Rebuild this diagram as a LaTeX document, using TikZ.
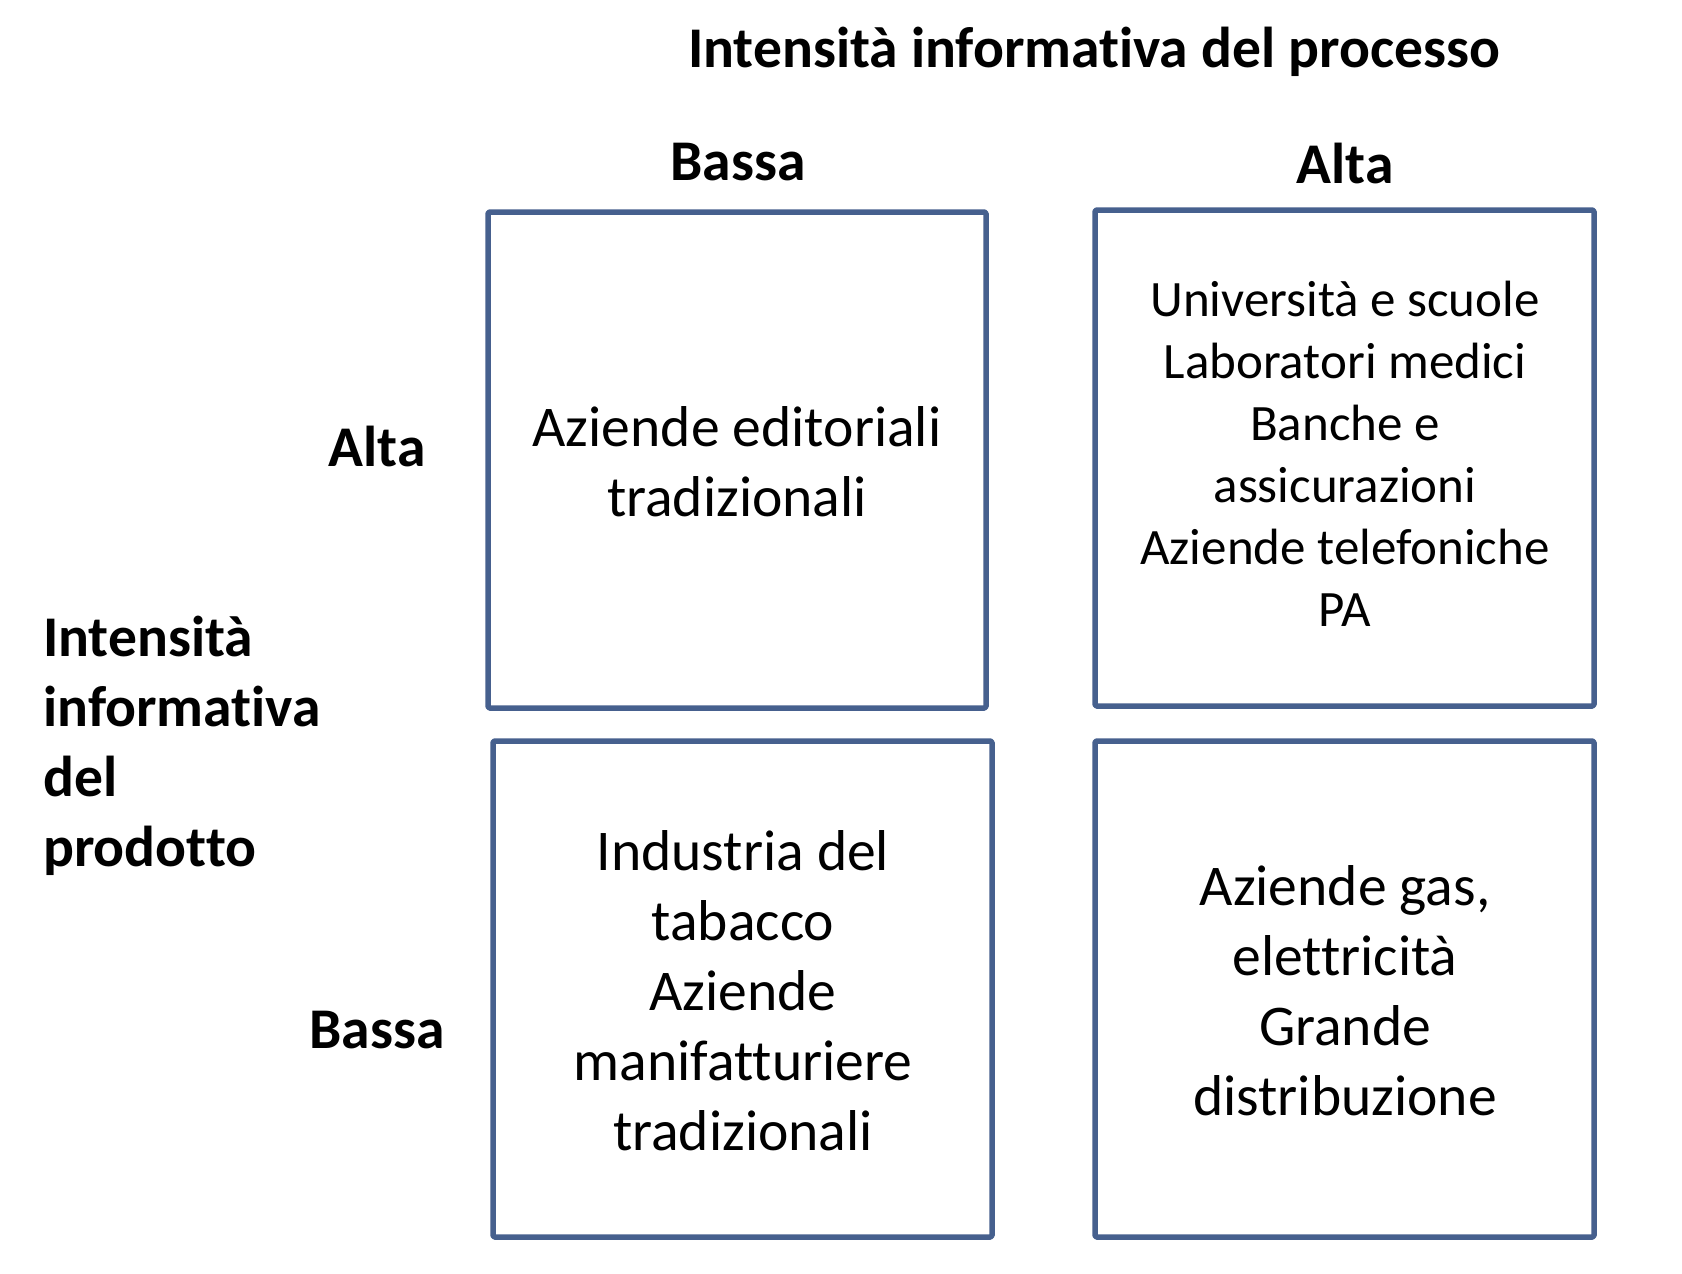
\documentclass[tikz,border=0pt]{standalone}
\usepackage{fontspec}
\setmainfont[Ligatures=NoCommon]{Carlito}
\definecolor{boxblue}{HTML}{46608E}
\begin{document}
\begin{tikzpicture}[x=1pt,y=-1pt,
  cell/.style={draw=boxblue,line width=5.5pt,line join=round,rounded corners=1.5pt},
  big/.style={font=\fontsize{57.6}{70}\selectfont,align=center,inner sep=0pt},
  small/.style={font=\fontsize{51}{62}\selectfont,align=center,inner sep=0pt},
  lab/.style={font=\bfseries\fontsize{57.6}{70}\selectfont,inner sep=0pt}]
\useasboundingbox (0,0) rectangle (1682,1274);
% boxes
\draw[cell] (488,212) rectangle (986,708);
\draw[cell] (1095,210) rectangle (1594,706);
\draw[cell] (493,741) rectangle (992,1237);
\draw[cell] (1095,741) rectangle (1594,1237);
% headings
\node[lab,anchor=base] (title) at (1094,67) {Intensità informativa del processo};
\node[lab,anchor=base] (colB) at (738,180) {Bassa};
\node[lab,anchor=base] (colA) at (1345,183) {Alta};
\node[lab,anchor=base] (rowA) at (377,466) {Alta};
\node[lab,anchor=base] (rowB) at (377,1048) {Bassa};
\node[lab,anchor=base west] (ylab) at (43,656) {Intensità};
\node[lab,anchor=base west] (ylab2) at (43,726) {informativa};
\node[lab,anchor=base west] (ylab3) at (43,796) {del};
\node[lab,anchor=base west] (ylab4) at (43,866) {prodotto};
% cell texts
\node[big] (tl) at (737,462) {Aziende editoriali\\tradizionali};
\node[small] (tr) at (1345,454) {Università e scuole\\Laboratori medici\\Banche e\\assicurazioni\\Aziende telefoniche\\PA};
\node[big] (bl) at (743,991) {Industria del\\tabacco\\Aziende\\manifatturiere\\tradizionali};
\node[big] (br) at (1345,991) {Aziende gas,\\elettricità\\Grande\\distribuzione};
\end{tikzpicture}
\end{document}
